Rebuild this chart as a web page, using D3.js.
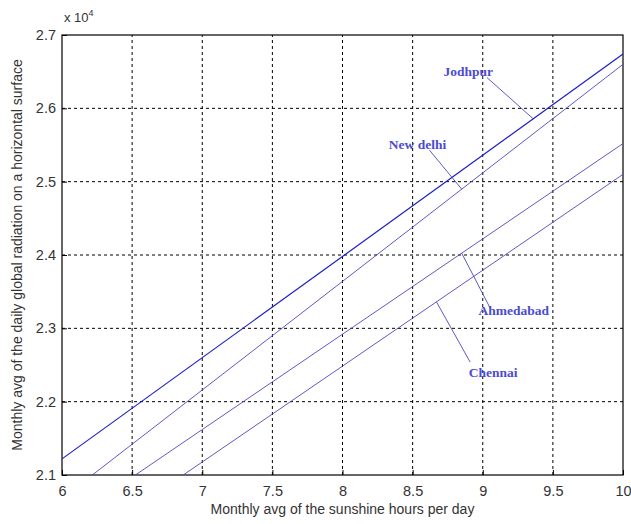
<!DOCTYPE html>
<html>
<head>
<meta charset="utf-8">
<script src="https://cdn.jsdelivr.net/npm/d3@7"></script>
<style>
    body { margin: 0; background: #fff; }
    svg text { font-family: "Liberation Sans", Arial, sans-serif; }
</style>
</head>
<body>
<div id="chart"></div>
<script>
// sunshine hours at both ends of the plotted range
const hours = [6, 10]

// global radiation (x 10^4) at those hours, per city
const cities = ["Jodhpur", "New delhi", "Ahmedabad", "Chennai"]
const jodhpur = [2.122, 2.674]
const newDelhi = [2.068, 2.660]
const ahmedabad = [2.032, 2.552]
const chennai = [1.987, 2.510]

// tick labels
const xTicks = [6, 6.5, 7, 7.5, 8, 8.5, 9, 9.5, 10]
const yTicks = [2.1, 2.2, 2.3, 2.4, 2.5, 2.6, 2.7]

// label anchor (hours, value) and the hour where the leader meets the line
const labelAt = [[8.72, 2.644], [8.33, 2.545], [8.97, 2.318], [8.90, 2.233]]
const leaderFrom = [[9.03, 2.642], [8.62, 2.543], [9.06, 2.325], [8.91, 2.254]]
const leaderTo = [9.36, 8.85, 8.85, 8.67]

const width = 631, height = 524
const margin = {top: 35, right: 8, bottom: 49, left: 62}

const svg = d3.select("#chart").append("svg")
    .attr("width", width)
    .attr("height", height)

const x = d3.scaleLinear().domain([6, 10]).range([margin.left, width - margin.right])
const y = d3.scaleLinear().domain([2.1, 2.7]).range([height - margin.bottom, margin.top])

svg.append("clipPath").attr("id", "clip")
    .append("rect")
    .attr("x", x(6)).attr("y", y(2.7))
    .attr("width", x(10) - x(6)).attr("height", y(2.1) - y(2.7))

// dashed grid
svg.append("g").selectAll("line")
    .data(xTicks.slice(1, -1))
    .join("line")
    .attr("x1", d => x(d)).attr("x2", d => x(d))
    .attr("y1", y(2.1)).attr("y2", y(2.7))
    .attr("stroke", "#000").attr("stroke-dasharray", "3,3")
svg.append("g").selectAll("line")
    .data(yTicks.slice(1, -1))
    .join("line")
    .attr("y1", d => y(d)).attr("y2", d => y(d))
    .attr("x1", x(6)).attr("x2", x(10))
    .attr("stroke", "#000").attr("stroke-dasharray", "3,3")

// axes, ticks pointing inward like matlab
const xAxis = svg.append("g")
    .attr("transform", `translate(0,${y(2.1)})`)
    .call(d3.axisBottom(x).tickValues(xTicks).tickFormat(d3.format("")).tickSizeInner(-5).tickSizeOuter(0).tickPadding(11))
const yAxis = svg.append("g")
    .attr("transform", `translate(${x(6)},0)`)
    .call(d3.axisLeft(y).tickValues(yTicks).tickFormat(d3.format(".1f")).tickSizeInner(-5).tickSizeOuter(0).tickPadding(6))
;[xAxis, yAxis].forEach(a => {
    a.select(".domain").remove()
    a.selectAll("text").attr("font-size", 14.5).attr("fill", "#333")
        .style("font-family", "'Liberation Sans', Arial, sans-serif")
})

// box
svg.append("rect")
    .attr("x", x(6)).attr("y", y(2.7))
    .attr("width", x(10) - x(6)).attr("height", y(2.1) - y(2.7))
    .attr("fill", "none").attr("stroke", "#000").attr("stroke-width", 1.2)

// series lines
const series = [jodhpur, newDelhi, ahmedabad, chennai]
const line = d3.line().x((d, i) => x(hours[i])).y(d => y(d))
svg.append("g").attr("clip-path", "url(#clip)")
    .selectAll("path")
    .data(series)
    .join("path")
    .attr("d", d => line(d))
    .attr("fill", "none")
    .attr("stroke", (d, i) => i === 0 ? "#1c1cc8" : "#4848c0")
    .attr("stroke-width", (d, i) => i === 0 ? 1.2 : 0.9)

// leader lines, end point sits on the series line
const at = (s, h) => s[0] + (s[1] - s[0]) * (h - hours[0]) / (hours[1] - hours[0])
svg.append("g").selectAll("line")
    .data(cities)
    .join("line")
    .attr("x1", (d, i) => x(leaderFrom[i][0])).attr("y1", (d, i) => y(leaderFrom[i][1]))
    .attr("x2", (d, i) => x(leaderTo[i])).attr("y2", (d, i) => y(at(series[i], leaderTo[i])))
    .attr("stroke", "#4848c0").attr("stroke-width", 0.9)

svg.append("g").selectAll("text")
    .data(cities)
    .join("text")
    .attr("x", (d, i) => x(labelAt[i][0])).attr("y", (d, i) => y(labelAt[i][1]))
    .attr("fill", "#4b4bd2")
    .attr("font-size", 13.5).attr("font-weight", "bold")
    .style("font-family", "'Liberation Serif', 'Times New Roman', serif")
    .text(d => d)

// exponent
const exp = svg.append("text").attr("x", x(6) + 2).attr("y", 22)
    .attr("font-size", 13).attr("fill", "#333")
exp.append("tspan").text("x 10")
exp.append("tspan").attr("font-size", 9).attr("dy", -6).text("4")

// axis titles
svg.append("text")
    .attr("x", (x(6) + x(10)) / 2).attr("y", 514)
    .attr("text-anchor", "middle").attr("font-size", 14).attr("fill", "#333")
    .text("Monthly avg of the sunshine hours per day")
svg.append("text")
    .attr("transform", `translate(22,${(y(2.1) + y(2.7)) / 2}) rotate(-90)`)
    .attr("text-anchor", "middle").attr("font-size", 14).attr("fill", "#333")
    .text("Monthly avg of the daily global radiation on a horizontal surface")
</script>
</body>
</html>
